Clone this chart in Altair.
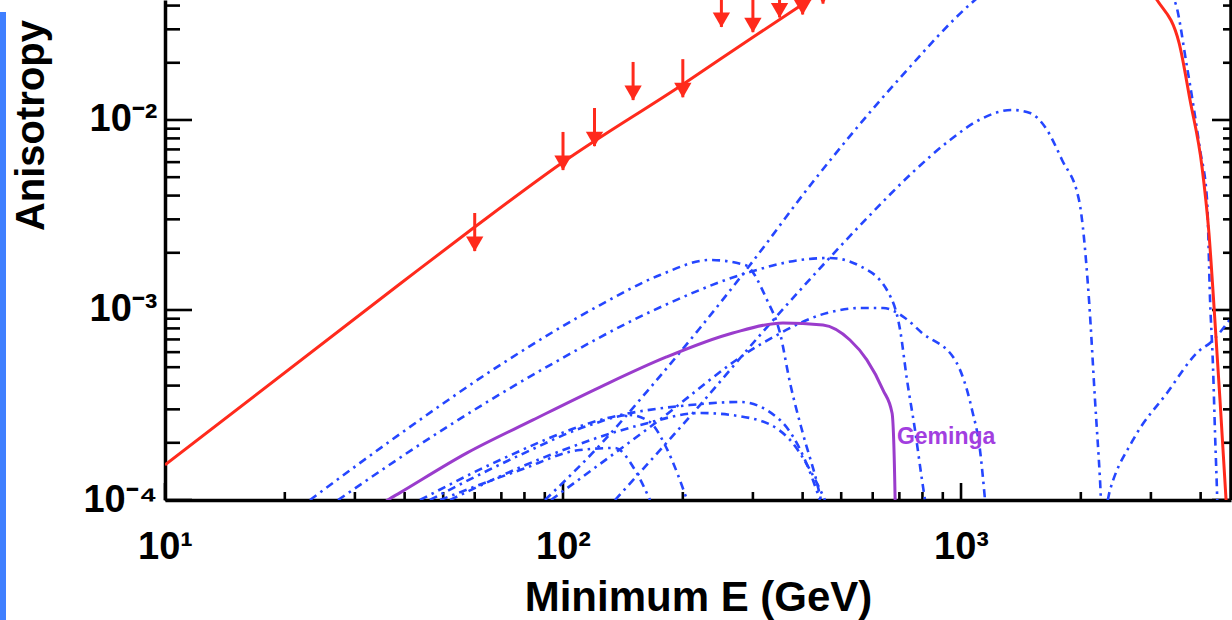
import altair as alt
import pandas as pd

# ---------------- data ----------------
# total anisotropy (red solid)
total_E = [10, 38.9, 60.1, 99.3, 199, 298, 394, 600, 1000, 2000, 3108, 3532, 3762, 4032, 4197, 4322, 4474, 4634, 4700]
total_A = [1.53e-4, 1.37e-3, 2.74e-3, 5.94e-3, 0.0153, 0.0270, 0.0398, 0.07, 0.09, 0.09, 0.0428, 0.0254, 0.01273,
           5.66e-3, 2.54e-3, 1.04e-3, 3.36e-4, 1.0e-4, 6e-5]

# upper limits (red arrows)
limit_E = [60, 100, 120, 150, 200, 250, 300, 350, 400, 450]
limit_A = [3.24e-3, 8.65e-3, 0.01156, 0.0202, 0.0209, 0.049, 0.046, 0.055, 0.057, 0.065]

# Geminga (purple solid)
gem_E = [33, 36.3, 38.9, 57.4, 84.1, 124, 182, 267, 357, 450, 526, 580, 637, 671, 683, 684]
gem_A = [8.5e-5, 1.0e-4, 1.09e-4, 1.77e-4, 2.64e-4, 3.93e-4, 5.66e-4, 7.57e-4, 8.55e-4, 8.34e-4, 6.95e-4,
         5.46e-4, 3.79e-4, 2.87e-4, 1.0e-4, 6e-5]
gem_label = ["Geminga"]
gem_label_E = [690]
gem_label_A = [2.15e-4]

# individual pulsars (blue dash-dot)
p1_E = [90.1, 123.9, 165.4, 220.9, 295.0, 422.4, 702.6, 1084, 1673, 2508, 3429, 3697, 3987, 4151, 4224, 4297, 4347, 4398, 4424]
p1_A = [1.0e-4, 1.948e-4, 3.885e-4, 8.04e-4, 1.725e-3, 4.66e-3, 0.01664, 0.0428, 0.0785, 0.0695, 0.0428, 0.0190,
        6.95e-3, 3.79e-3, 1.129e-3, 5.01e-4, 2.25e-4, 1.088e-4, 6.95e-5]
p2_E = [135.1, 220.9, 312.6, 422.4, 590.6, 753.2, 938.5, 1110, 1343, 1491, 1626, 1794, 1979, 2097, 2171, 2235,
        2255, 2300, 2368, 2705, 3293, 3987, 4224, 4768]
p2_A = [1.0e-4, 3.16e-4, 7.38e-4, 1.492e-3, 3.16e-3, 5.26e-3, 7.85e-3, 0.0100, 0.01129, 0.01088, 9.19e-3, 6.16e-3,
        3.79e-3, 1.129e-3, 3.36e-4, 1.274e-4, 9.0e-5, 9.0e-5, 1.129e-4, 2.07e-4, 3.66e-4, 6.16e-4, 6.71e-4, 9.08e-4]
p3_E = [23.13, 38.95, 69.46, 123.9, 175.3, 234.0, 286.6, 325.5, 350.9, 371.9, 400.9, 434.7, 444.9]
p3_A = [1.0e-4, 2.225e-4, 5.13e-4, 1.062e-3, 1.528e-3, 1.833e-3, 1.725e-3, 1.129e-3, 7.57e-4, 4.13e-4, 2.225e-4,
        1.229e-4, 1.0e-4]
p4_E = [27.21, 52.01, 92.75, 165.4, 295.0, 394.0, 468.7, 557.5, 655.6, 703, 731.7, 766.3, 798.0, 811.9]
p4_A = [1.0e-4, 2.48e-4, 5.13e-4, 9.76e-4, 1.585e-3, 1.833e-3, 1.878e-3, 1.704e-3, 1.244e-3, 7.85e-4, 4.28e-4,
        2.336e-4, 1.274e-4, 1.0e-4]
p5_E = [43.72, 69.46, 123.9, 208.5, 278.4, 350.9, 405.5, 442.3]
p5_A = [1.0e-4, 1.624e-4, 2.637e-4, 3.16e-4, 3.28e-4, 2.637e-4, 1.624e-4, 1.0e-4]
p6_E = [52.01, 92.75, 156.2, 220.9, 295.0, 371.9, 417.5, 455.3]
p6_A = [1.0e-4, 1.724e-4, 2.48e-4, 2.87e-4, 2.70e-4, 2.07e-4, 1.438e-4, 1.0e-4]
p7_E = [49.09, 77.98, 110.3, 135.1, 151.7, 165.4]
p7_A = [1.0e-4, 1.438e-4, 1.833e-4, 1.878e-4, 1.438e-4, 1.0e-4]
p8_E = [46.3, 77.98, 116.9, 147.3, 165.4, 180.4, 194.5, 204.9]
p8_A = [1.0e-4, 1.724e-4, 2.48e-4, 2.80e-4, 2.57e-4, 1.948e-4, 1.354e-4, 1.0e-4]
p9_E = [93.3, 165.4, 318.0, 460.6, 557.5, 636.8, 723.3, 798.0, 965.9, 1066, 1116, 1149]
p9_A = [1.0e-4, 2.42e-4, 6.71e-4, 9.64e-4, 1.024e-3, 1.024e-3, 9.08e-4, 7.57e-4, 5.46e-4, 2.976e-4, 1.833e-4, 1.0e-4]

# axis ticks
x_major = [10, 100, 1000]
x_minor = [20, 30, 40, 50, 60, 70, 80, 90, 200, 300, 400, 500, 600, 700, 800, 900, 2000, 3000, 4000]
y_major = [1e-4, 1e-3, 1e-2]
y_minor = [2e-4, 3e-4, 4e-4, 5e-4, 6e-4, 7e-4, 8e-4, 9e-4,
           2e-3, 3e-3, 4e-3, 5e-3, 6e-3, 7e-3, 8e-3, 9e-3, 2e-2, 3e-2, 4e-2]

# ---------------- styling ----------------
W, H = 1066, 500
FONT = "Liberation Sans"
RED = "#ff2a1c"
BLUE = "#2546ff"
PURPLE = "#9a3ccc"
PURPLE_TXT = "#a23ee0"

xs = alt.Scale(type="log", domain=[10, 4768], nice=False)
ys = alt.Scale(type="log", domain=[1e-4, 0.0428], nice=False)

x_axis = alt.Axis(
    values=x_major,
    labelExpr="datum.value < 50 ? '10¹' : (datum.value < 500 ? '10²' : '10³')",
    ticks=False, tickSize=0, grid=False,
    domain=True, domainColor="black", domainWidth=3.5,
    labelFont=FONT, labelFontSize=38, labelFontWeight="bold", labelColor="black",
    labelPadding=28, labelFlush=False, labelOverlap=False,
    title="Minimum E (GeV)", titleFont=FONT, titleFontSize=42, titleFontWeight="bold",
    titleColor="black", titleY=110, titleBaseline="alphabetic",
)
y_axis = alt.Axis(
    values=y_major,
    labelExpr="datum.value < 0.0005 ? '10⁻⁴' : (datum.value < 0.005 ? '10⁻³' : '10⁻²')",
    ticks=False, tickSize=0, grid=False,
    domain=True, domainColor="black", domainWidth=3.5,
    labelFont=FONT, labelFontSize=38, labelFontWeight="bold", labelColor="black",
    labelPadding=8, labelFlush=False, labelOverlap=False, labelBaseline="middle",
    title="Anisotropy", titleFont=FONT, titleFontSize=40, titleFontWeight="bold",
    titleColor="black", titleX=-122, titleY=125, titleAngle=270,
    titleBaseline="alphabetic", titleAlign="center",
)

X = alt.X("E:Q", scale=xs, axis=x_axis)
Y = alt.Y("A:Q", scale=ys, axis=y_axis)

# ---------------- tables ----------------
def curve(E, A, name=None):
    df = pd.DataFrame({"E": E, "A": A})
    df["i"] = range(len(df))
    if name is not None:
        df["curve"] = name
    return df

blue_df = pd.concat([
    curve(p1_E, p1_A, "p1"), curve(p2_E, p2_A, "p2"), curve(p3_E, p3_A, "p3"),
    curve(p4_E, p4_A, "p4"), curve(p5_E, p5_A, "p5"), curve(p6_E, p6_A, "p6"),
    curve(p7_E, p7_A, "p7"), curve(p8_E, p8_A, "p8"), curve(p9_E, p9_A, "p9"),
], ignore_index=True)
total_df = curve(total_E, total_A)
gem_df = curve(gem_E, gem_A)
lim_df = pd.DataFrame({"E": limit_E, "A": limit_A})
label_df = pd.DataFrame({"E": gem_label_E, "A": gem_label_A, "label": gem_label})
xmaj_df = pd.DataFrame({"E": x_major})
xmin_df = pd.DataFrame({"E": x_minor})
ymaj_df = pd.DataFrame({"A": y_major})
ymin_df = pd.DataFrame({"A": y_minor})
one = pd.DataFrame({"k": [0]})

# ---------------- layers ----------------
tick_style = dict(color="black", strokeWidth=2.6)
bot_major = alt.Chart(xmaj_df).mark_rule(**tick_style).encode(x=X, y=alt.value(H), y2=alt.value(H - 17))
bot_minor = alt.Chart(xmin_df).mark_rule(**tick_style).encode(x=X, y=alt.value(H), y2=alt.value(H - 8))
left_major = alt.Chart(ymaj_df).mark_rule(**tick_style).encode(y=Y, x=alt.value(0), x2=alt.value(27))
left_minor = alt.Chart(ymin_df).mark_rule(**tick_style).encode(y=Y, x=alt.value(0), x2=alt.value(15))
right_major = alt.Chart(ymaj_df).mark_rule(**tick_style).encode(y=Y, x=alt.value(W), x2=alt.value(W - 19))
right_minor = alt.Chart(ymin_df).mark_rule(**tick_style).encode(y=Y, x=alt.value(W), x2=alt.value(W - 8))
right_line = alt.Chart(one).mark_rule(color="black", strokeWidth=3.5).encode(
    x=alt.value(W), y=alt.value(0), y2=alt.value(H))

blue = alt.Chart(blue_df).mark_line(
    color=BLUE, strokeWidth=2.6, strokeDash=[8, 5, 2.5, 5], clip=True, interpolate="monotone"
).encode(x=X, y=Y, detail="curve:N", order="i:Q")

purple = alt.Chart(gem_df).mark_line(
    color=PURPLE, strokeWidth=3, clip=True, interpolate="monotone"
).encode(x=X, y=Y, order="i:Q")

red = alt.Chart(total_df).mark_line(
    color=RED, strokeWidth=3, clip=True, interpolate="monotone"
).encode(x=X, y=Y, order="i:Q")

arrows_base = alt.Chart(lim_df).transform_calculate(tip="datum.A * 0.63")
arrow_shaft = arrows_base.mark_rule(color=RED, strokeWidth=3, clip=True).encode(
    x=X, y=Y, y2="tip:Q")
arrow_head = arrows_base.mark_point(
    shape="triangle-down", filled=True, size=300, color=RED, opacity=1, yOffset=-7, clip=True
).encode(x=X, y=alt.Y("tip:Q", scale=ys, axis=y_axis))

gem_text = alt.Chart(label_df).mark_text(
    align="left", baseline="middle", font=FONT, fontSize=23, fontWeight="bold", color=PURPLE_TXT
).encode(x=X, y=Y, text="label:N")

side_bar = alt.Chart(one).mark_rect(color="#3f7fff").encode(
    x=alt.value(-165), x2=alt.value(-159), y=alt.value(12), y2=alt.value(620))

chart = alt.layer(
    bot_major, bot_minor, left_major, left_minor, right_major, right_minor,
    blue, purple, red, arrow_shaft, arrow_head, gem_text, right_line, side_bar,
).properties(
    width=W, height=H,
    padding={"left": 165, "top": 0, "right": 1, "bottom": 120},
    autosize=alt.AutoSizeParams(type="none"),
    background="white",
).configure_view(stroke=None)

chart.save("out.html", embed_options={"renderer": "svg", "actions": False})
